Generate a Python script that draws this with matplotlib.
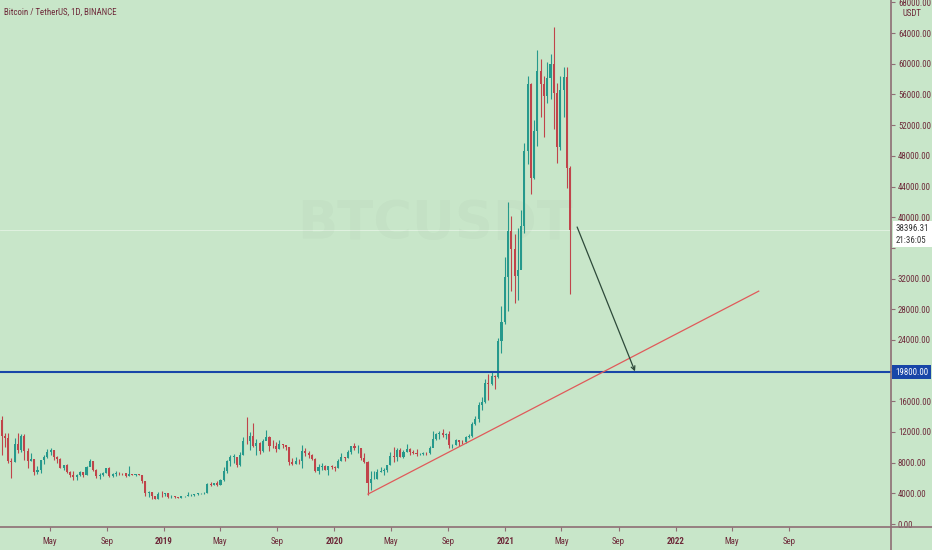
import matplotlib
matplotlib.use("Agg")
import matplotlib.pyplot as plt
import matplotlib.dates as mdates
import matplotlib.transforms as mtransforms
import matplotlib.font_manager as fm
from matplotlib.lines import Line2D
import numpy as np
import pandas as pd

# weekly BTC/USDT candles, week starting Monday 2018-01-15
first_week = "2018-01-15"
first_open = 13600
highs = [14100, 11900, 11800, 8600, 11200, 11800, 11700, 11700, 9900, 9200,
         8500, 7500, 8400, 9000, 9750, 9950, 9600, 8880, 8550, 7750,
         7800, 6900, 6850, 6500, 6850, 6800, 7600, 8500, 8250, 7150,
         6600, 6800, 7350, 7400, 6600, 6850, 6800, 6650, 6700, 7600,
         6550, 6500, 6550, 6450, 5600, 4350, 4200, 3650, 4200, 4250,
         4100,
         4100, 3750, 3650, 3550, 3700, 3700, 4200, 3900, 3950, 4000,
         4100, 4150, 5300, 5450, 5400, 5650, 5850, 7450, 8350, 8950,
         9100, 8800, 9350, 11300, 13970, 12000, 13200, 11100, 10650, 11100,
         12300, 11450, 10950, 10650, 10900, 10450, 10350, 10100, 8550, 8800,
         8450, 10350, 9950, 9550, 9100, 8550, 7850, 7900, 7650, 7550,
         7700, 7500,
         8450, 9200, 8750, 9600, 10200, 10500, 10250, 9950, 9200, 8200,
         6950, 6950, 7200, 7450, 7300, 7750, 9450, 10050, 9900, 9850,
         9600, 10400, 9950, 9600, 9800, 9300, 9450, 9350, 10200, 12100,
         11900, 12100, 12450, 11800, 12100, 10450, 11100, 10950, 10950, 11450,
         11700, 13350, 14100, 15950, 16500, 18950, 19500, 19900, 19450, 24300,
         28400, 34800,
         41950, 40100, 37850, 38550, 40950, 49700, 58350, 57550, 52650, 61800,
         60650, 58400, 60200, 61300, 64850, 57550, 58450, 59600, 59600, 46650]
lows = [9000, 10000, 7900, 6000, 8100, 9300, 9400, 8400, 7300, 8200,
        6450, 6575, 6650, 7800, 8650, 8950, 8350, 7950, 7250, 7050,
        6650, 6100, 5750, 5800, 6300, 6100, 6350, 7500, 6900, 6000,
        5880, 6250, 6650, 6130, 6150, 6250, 6400, 6450, 6150, 6300,
        6400, 6250, 6350, 5300, 3700, 3550, 3250, 3200, 3200, 3550,
        3600,
        3450, 3450, 3450, 3350, 3350, 3550, 3650, 3700, 3700, 3800,
        3900, 3950, 4050, 4900, 5050, 5000, 5150, 5650, 6600, 7550,
        8000, 7450, 7550, 8950, 10400, 9650, 10100, 9050, 9100, 9400,
        11000, 9500, 9900, 9350, 9750, 9950, 9600, 7700, 7750, 7800,
        7850, 7300, 8900, 8650, 8400, 6800, 6500, 7050, 7000, 6450,
        7150, 6850,
        7350, 8150, 8250, 8550, 9150, 9650, 9300, 8400, 8000, 3800,
        4450, 5850, 5850, 6750, 6450, 6800, 7650, 8100, 8200, 8700,
        8650, 9350, 9000, 9100, 8850, 8950, 9050, 9050, 9150, 10550,
        10950, 11100, 11350, 11100, 9850, 9900, 10250, 10150, 10400, 10550,
        11200, 11400, 12900, 13250, 14800, 15800, 16200, 18100, 17600, 19000,
        22350, 26100,
        27750, 30400, 28850, 29250, 33400, 38000, 47000, 43000, 44950, 49300,
        53100, 50400, 54900, 55450, 51550, 47050, 48800, 53000, 43800, 30000]
closes = [11500, 11200, 8200, 8100, 10400, 9600, 11500, 9500, 8200, 8500,
          6800, 7050, 8300, 8800, 9400, 9650, 8700, 8500, 7350, 7700,
          6780, 6450, 6150, 6350, 6750, 6350, 7400, 8200, 7030, 6300,
          6400, 6700, 7300, 6250, 6500, 6700, 6620, 6600, 6300, 6500,
          6450, 6480, 6400, 5600, 4000, 4150, 3600, 3250, 3950, 3900,
          4050,
          3500, 3550, 3530, 3400, 3650, 3650, 3750, 3800, 3900, 3990,
          3990, 4100, 5200, 5150, 5300, 5150, 5750, 6950, 8200, 8750,
          8750, 7650, 8950, 10850, 10800, 11450, 10200, 10550, 9500, 10800,
          11400, 10200, 10150, 9750, 10400, 10300, 10050, 8050, 7850, 8250,
          8200, 9550, 9200, 9050, 8500, 6900, 7400, 7500, 7100, 7500,
          7400, 7350,
          8200, 8700, 8600, 9350, 10150, 9900, 9950, 8550, 8050, 5350,
          5850, 5900, 6800, 6900, 7100, 7700, 8900, 8750, 9650, 8700,
          9450, 9750, 9350, 9300, 9100, 9100, 9300, 9200, 9950, 11100,
          11700, 11900, 11650, 11700, 10250, 10350, 10950, 10750, 10650, 11350,
          11500, 13050, 13750, 15450, 15950, 18350, 18200, 19350, 19150, 23850,
          26300, 32200,
          38150, 35800, 32300, 33100, 38900, 48600, 57400, 45150, 51200, 59000,
          57350, 55800, 58200, 60000, 56200, 49100, 56600, 58250, 46450, 38396.31]

last_price = 38396.31
countdown = "21:36:05"
level_price = 19800.00

# drawings: trend line and projected arrow (date, price)
trend_start = ("2020-03-13", 3900)
trend_end = ("2022-06-28", 30360)
arrow_start = ("2021-06-04", 38720)
arrow_end = ("2021-10-06", 19900)

xtick_dates = ["2018-05-01", "2018-09-01", "2019-01-01", "2019-05-01", "2019-09-01",
               "2020-01-01", "2020-05-01", "2020-09-01", "2021-01-01", "2021-05-01",
               "2021-09-01", "2022-01-01", "2022-05-01", "2022-09-01"]
xtick_labels = ["May", "Sep", "2019", "May", "Sep", "2020", "May", "Sep",
                "2021", "May", "Sep", "2022", "May", "Sep"]

# pick a narrow font if one is installed, the price scale text is very condensed
cond_names = [f.name for f in fm.fontManager.ttflist
              if str(f.stretch) in ("condensed", "semi-condensed", "extra-condensed")]
narrow = None
for n in ["Liberation Sans Narrow", "Roboto Condensed", "Open Sans Condensed",
          "Noto Sans", "DejaVu Sans", "Open Sans", "Roboto"]:
    if n in cond_names:
        narrow = n
        break
if narrow is None and cond_names:
    narrow = cond_names[0]
if narrow:
    plt.rcParams['font.family'] = [narrow, 'DejaVu Sans']
    plt.rcParams['font.stretch'] = 'condensed'
    fs = 6.4
else:
    plt.rcParams['font.family'] = ['Liberation Sans', 'DejaVu Sans']
    fs = 5.8

bg = "#c8e6c9"
up_col = "#26998c"
down_col = "#c0444a"
txt_col = "#6e2a3a"
axis_col = "#8e6e74"
blue = "#1846a8"

W, H = 932, 550
fig = plt.figure(figsize=(W / 100, H / 100), dpi=100)
fig.patch.set_facecolor(bg)
ax = fig.add_axes([0, 23 / H, 891 / W, 527 / H])
ax.set_facecolor(bg)

opens = [first_open] + closes[:-1]
weeks = pd.date_range(first_week, periods=len(closes), freq="W-MON")
x = mdates.date2num(weeks) + 3
o = np.array(opens, dtype=float)
c = np.array(closes, dtype=float)
colors = np.where(c >= o, up_col, down_col)

ax.vlines(x, lows, highs, colors=colors, lw=0.8, zorder=3)
body = np.maximum(np.abs(c - o), 60)
ax.bar(x, body, bottom=np.minimum(o, c), width=4.5, color=colors, lw=0, zorder=4)

# axis limits (pixel layout of the reference)
px_per_day = 170.5 / 365.25
x0 = mdates.date2num(pd.Timestamp("2019-01-01")) - 164 / px_per_day
ax.set_xlim(x0, x0 + 891 / px_per_day)
ax.set_ylim(-391, 68318)

# current price line and support level
ax.axhline(last_price, color="white", lw=0.6, alpha=0.5, zorder=2)
ax.axhline(level_price, color=blue, lw=1.5, zorder=5)

d2n = lambda s: mdates.date2num(pd.Timestamp(s))
ax.plot([d2n(trend_start[0]), d2n(trend_end[0])], [trend_start[1], trend_end[1]],
        color="#e05a5a", lw=0.9, zorder=5)
ax.annotate("", xy=(d2n(arrow_end[0]), arrow_end[1]),
            xytext=(d2n(arrow_start[0]), arrow_start[1]),
            arrowprops=dict(arrowstyle="->", color="#2e4a3a", lw=0.9,
                            shrinkA=0, shrinkB=0, mutation_scale=7), zorder=6)

# watermark
ax.text(0.488, 0.575, "BTCUSDT", transform=ax.transAxes, fontsize=38,
        fontweight="bold", color="black", alpha=0.02, ha="center", va="center",
        family="DejaVu Sans", stretch="normal")

# axes styling
for s in ax.spines.values():
    s.set_visible(False)
ax.yaxis.tick_right()
ax.set_yticks(np.arange(0, 68001, 4000))
ax.yaxis.set_major_formatter(matplotlib.ticker.FuncFormatter(
    lambda v, p: "" if v in (20000, 36000) else "%.2f" % v))
ax.tick_params(axis="y", labelsize=fs, colors=txt_col, color=axis_col,
               length=3, pad=2)
ax.set_xticks([d2n(d) for d in xtick_dates])
ax.set_xticklabels(xtick_labels)
ax.tick_params(axis="x", labelsize=fs, colors=txt_col, color=axis_col,
               length=3, pad=4)
for lab in ax.get_xticklabels():
    if lab.get_text().isdigit():
        lab.set_fontweight("bold")

fig.add_artist(Line2D([0, 1], [23 / H, 23 / H], transform=fig.transFigure,
                      color=axis_col, lw=1.2))
fig.add_artist(Line2D([891 / W, 891 / W], [0, 1], transform=fig.transFigure,
                      color=axis_col, lw=1.2))

# labels on the price scale
trans = mtransforms.blended_transform_factory(ax.transAxes, ax.transData)
ax.annotate("%.2f\n%s" % (last_price, countdown), xy=(1, last_price),
            xycoords=trans, xytext=(5, 6), textcoords="offset pixels",
            ha="left", va="top", fontsize=fs, color="#333333",
            linespacing=1.45, annotation_clip=False, zorder=20,
            bbox=dict(boxstyle="square,pad=0.3", fc="white", ec="none"))
ax.text(1 + 4 / 891, level_price, "%.2f" % level_price, transform=trans,
        ha="left", va="center", fontsize=fs, color="white", clip_on=False,
        zorder=20, bbox=dict(boxstyle="square,pad=0.3", fc=blue, ec="none"))

fig.text(912 / W, 1 - 13 / H, "USDT", ha="center", va="center", fontsize=fs,
         color=txt_col, bbox=dict(boxstyle="square,pad=0.1", fc=bg, ec="none"))
fig.text(4 / W, 1 - 12 / H, "Bitcoin / TetherUS, 1D, BINANCE", ha="left",
         va="center", fontsize=fs, color=txt_col)

fig.savefig("out.png", dpi=100, facecolor=bg)
